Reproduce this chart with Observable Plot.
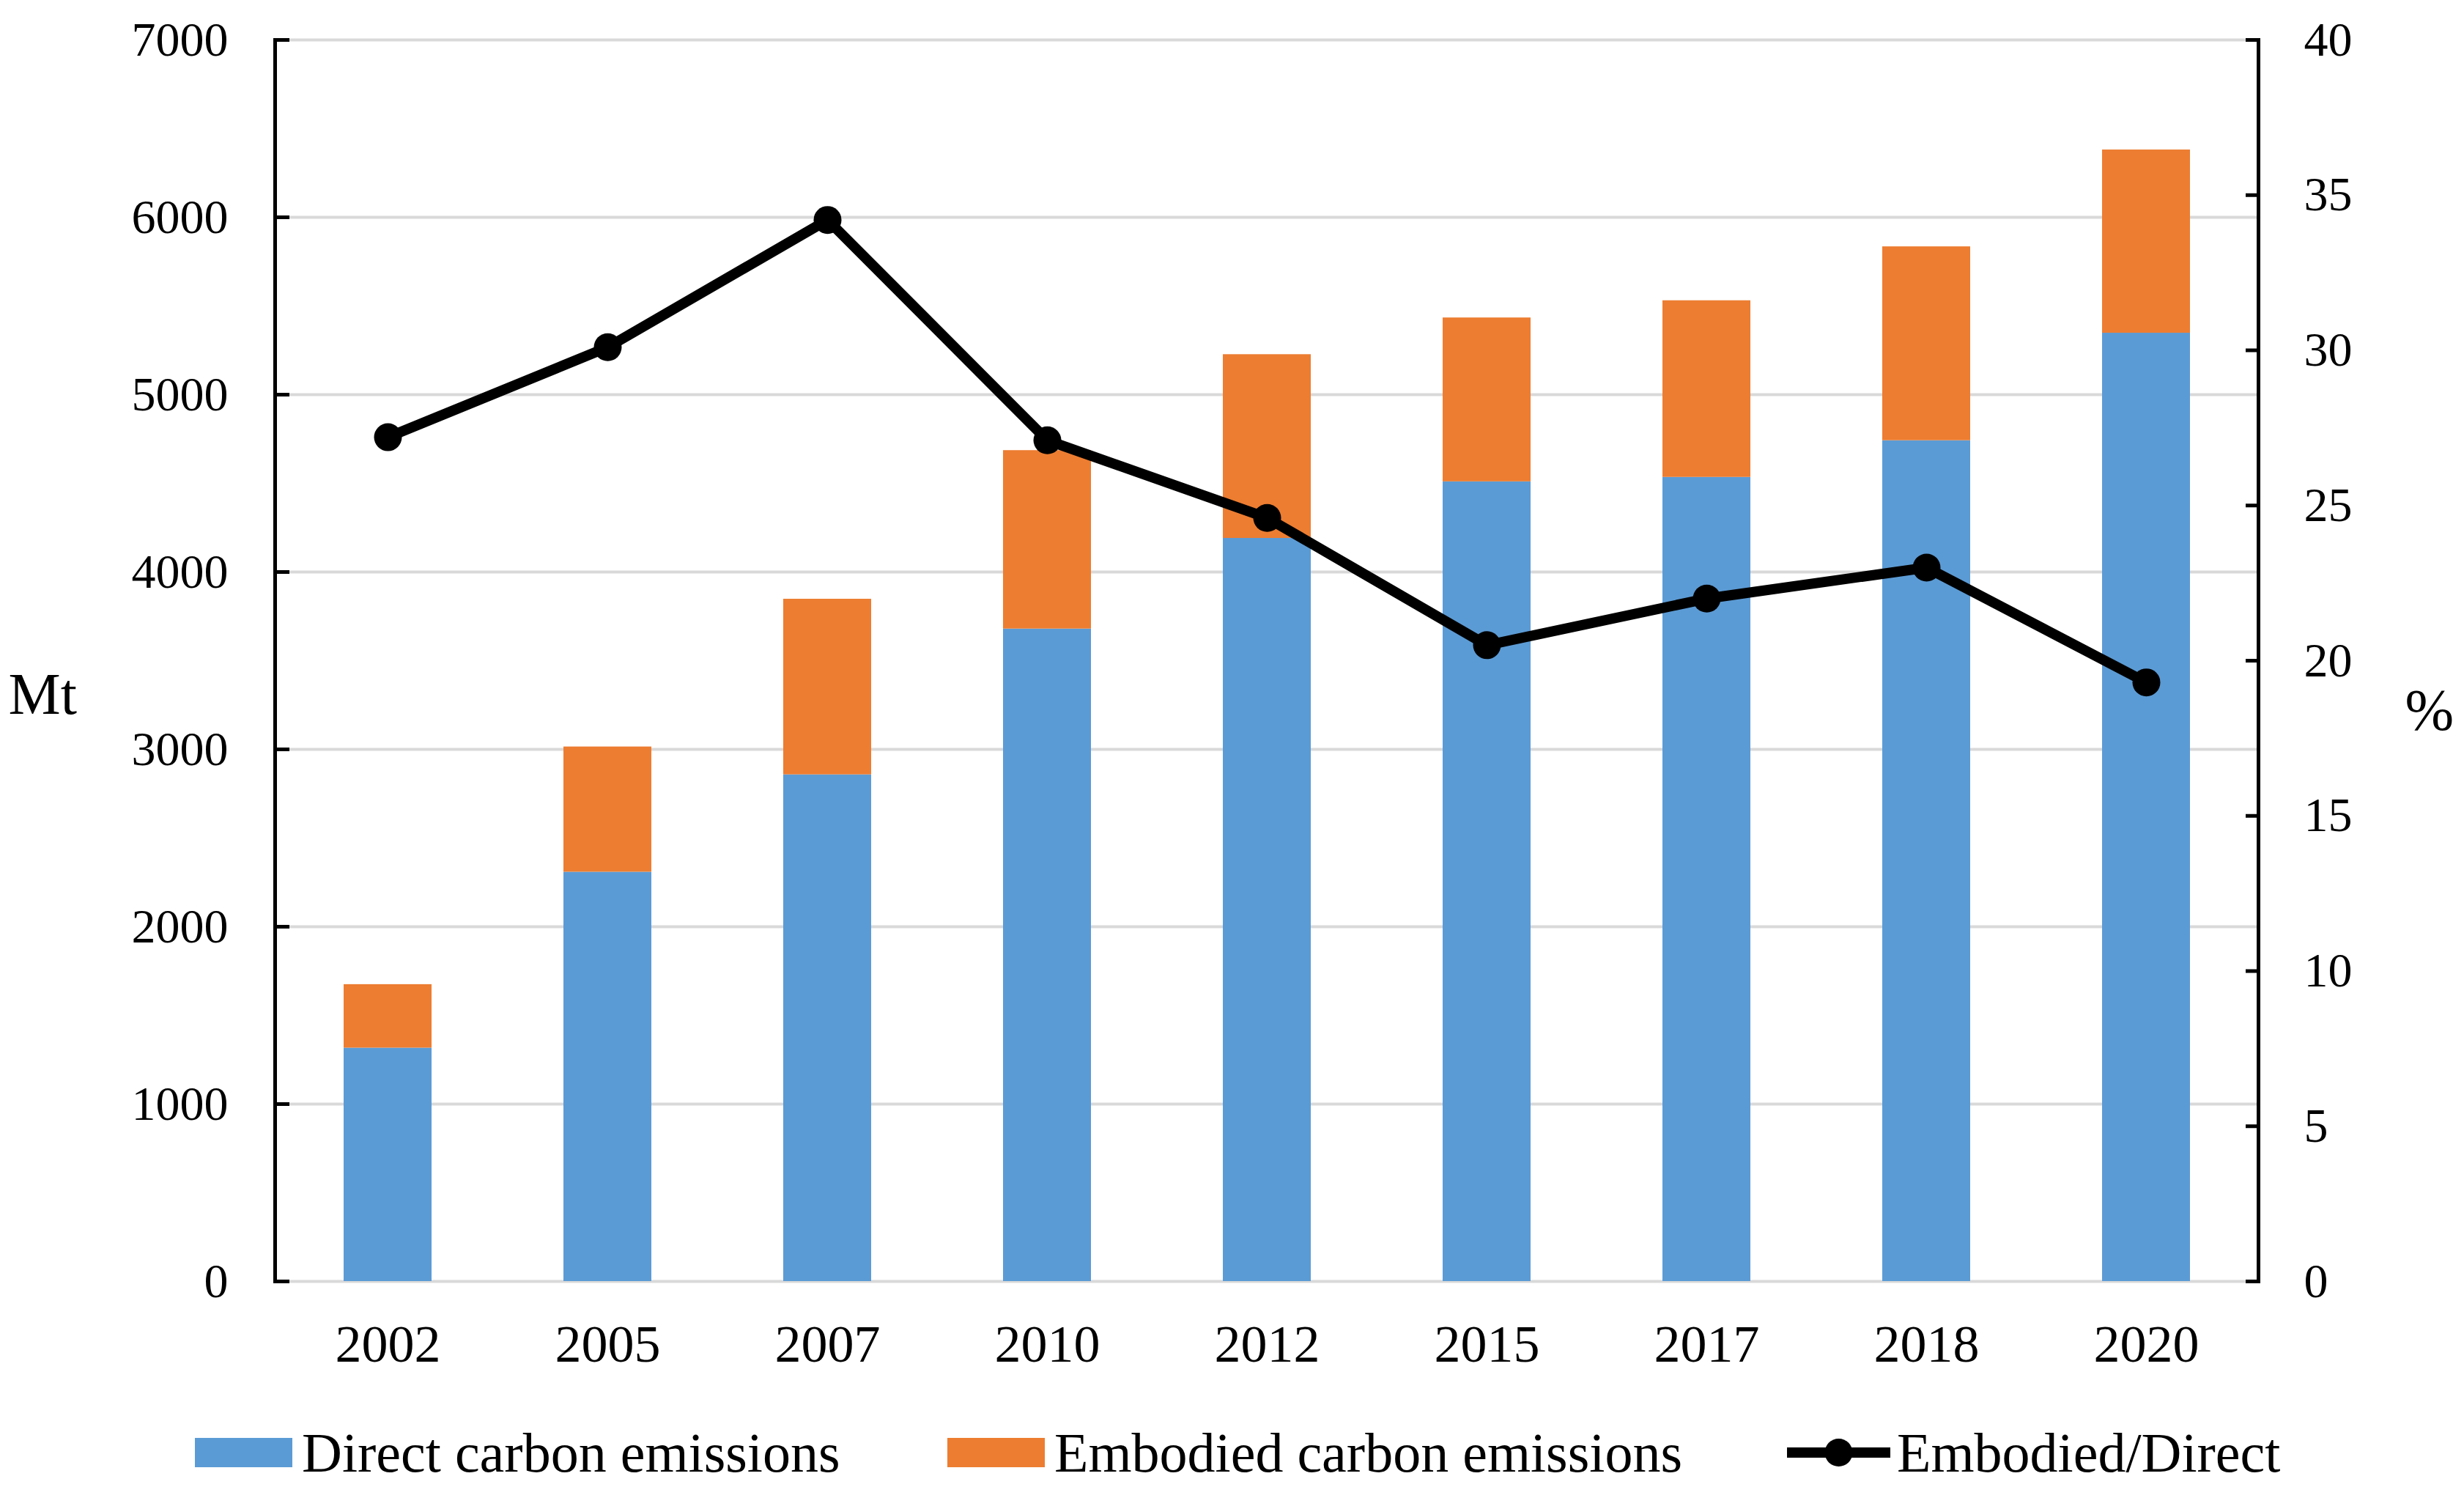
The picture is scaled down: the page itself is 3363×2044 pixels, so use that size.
<!DOCTYPE html>
<html>
<head>
<meta charset="utf-8">
<script src="https://cdn.jsdelivr.net/npm/d3@7"></script>
<script src="https://cdn.jsdelivr.net/npm/@observablehq/plot@0.6"></script>
<style>
  html, body { margin: 0; padding: 0; background: #fff; }
  #wrap { position: relative; width: 3363px; height: 2044px; font-family: "Liberation Serif", "Times New Roman", serif; color: #000; }
  #legend { position: absolute; left: 0; top: 1920px; width: 3363px; height: 124px; }
  .sw { position: absolute; top: 42px; width: 133px; height: 40px; }
  .lt { position: absolute; top: 20px; font-size: 76px; line-height: 84px; white-space: nowrap; }
</style>
</head>
<body>
<div id="wrap">
  <div id="chart"></div>
  <div id="legend"></div>
</div>
<script>
// ---- data ----
const years = ["2002", "2005", "2007", "2010", "2012", "2015", "2017", "2018", "2020"];
const directEmissions = [1316, 2308, 2857, 3679, 4190, 4509, 4534, 4741, 5347];          // Mt
const embodiedEmissions = [358, 706, 990, 1006, 1036, 924, 996, 1093, 1033];             // Mt
const embodiedDirectRatio = [27.2, 30.1, 34.2, 27.1, 24.6, 20.5, 22.0, 23.0, 19.3];      // %
const seriesNames = ["Direct carbon emissions", "Embodied carbon emissions"];
const lineName = "Embodied/Direct";
const seriesColors = ["#5B9BD5", "#ED7D31"];
const leftTicks = [0, 1000, 2000, 3000, 4000, 5000, 6000, 7000];
const rightTicks = [0, 5, 10, 15, 20, 25, 30, 35, 40];

// ---- build tables ----
const leftMax = 7000, rightMax = 40;
const k = leftMax / rightMax; // map % onto the Mt scale for the secondary axis
const barData = [];
years.forEach((y, i) => {
  barData.push({year: y, series: seriesNames[0], value: directEmissions[i]});
  barData.push({year: y, series: seriesNames[1], value: embodiedEmissions[i]});
});
const lineData = years.map((y, i) => ({year: y, ratio: embodiedDirectRatio[i]}));

const font = "'Liberation Serif', 'Times New Roman', serif";

const chart = Plot.plot({
  width: 3363,
  height: 1920,
  marginLeft: 375,
  marginRight: 281,
  marginTop: 54,
  marginBottom: 172,
  style: {fontFamily: font, background: "white", color: "black", overflow: "visible"},
  x: {domain: years, paddingInner: 0.6, paddingOuter: 0.3, label: null},
  y: {domain: [0, leftMax], label: null},
  color: {domain: seriesNames, range: seriesColors},
  marks: [
    Plot.gridY(leftTicks, {stroke: "#d9d9d9", strokeOpacity: 1, strokeWidth: 4}),
    Plot.barY(barData, {x: "year", y: "value", fill: "series", order: seriesNames}),
    Plot.line(lineData, {x: "year", y: d => d.ratio * k, stroke: "black", strokeWidth: 14, strokeLinejoin: "round"}),
    Plot.dot(lineData, {x: "year", y: d => d.ratio * k, r: 19, fill: "black", stroke: "none"}),
    Plot.frame({anchor: "left", stroke: "black", strokeWidth: 5}),
    Plot.frame({anchor: "right", stroke: "black", strokeWidth: 5}),
    // left axis: inward ticks + labels
    Plot.axisY(leftTicks, {anchor: "left", tickSize: 20, dx: 20, fill: "none", strokeWidth: 5, label: null}),
    Plot.axisY(leftTicks, {anchor: "left", tickSize: 0, tickPadding: 64, fontSize: 66, tickFormat: d => String(d), label: null}),
    // right axis (%): inward ticks + labels
    Plot.axisY(rightTicks.map(v => v * k), {anchor: "right", tickSize: 18, dx: -18, fill: "none", strokeWidth: 5, label: null}),
    Plot.axisY(rightTicks.map(v => v * k), {anchor: "right", tickSize: 0, tickPadding: 62, fontSize: 66, tickFormat: d => String(Math.round(d / k)), label: null}),
    Plot.axisX({tickSize: 0, tickPadding: 58, fontSize: 72, label: null}),
    Plot.text(["Mt"], {text: d => d, frameAnchor: "left", dx: -364, dy: 47, textAnchor: "start", fontSize: 80, fill: "black"}),
    Plot.text(["%"], {text: d => d, frameAnchor: "right", dx: 200, dy: 69, textAnchor: "start", fontSize: 80, fill: "black"})
  ]
});
document.getElementById("chart").appendChild(chart);

// ---- legend (below the SVG) ----
const legend = document.getElementById("legend");
const items = [
  {type: "rect", color: seriesColors[0], label: seriesNames[0], sx: 266, tx: 412},
  {type: "rect", color: seriesColors[1], label: seriesNames[1], sx: 1293, tx: 1439},
  {type: "line", color: "black", label: lineName, sx: 2439, tx: 2589}
];
items.forEach(it => {
  if (it.type === "rect") {
    const s = document.createElement("div");
    s.className = "sw";
    s.style.left = it.sx + "px";
    s.style.background = it.color;
    legend.appendChild(s);
  } else {
    const ns = "http://www.w3.org/2000/svg";
    const svg = document.createElementNS(ns, "svg");
    svg.setAttribute("width", 141);
    svg.setAttribute("height", 124);
    svg.style.position = "absolute";
    svg.style.left = it.sx + "px";
    svg.style.top = "0px";
    const ln = document.createElementNS(ns, "line");
    ln.setAttribute("x1", 0); ln.setAttribute("x2", 141);
    ln.setAttribute("y1", 62); ln.setAttribute("y2", 62);
    ln.setAttribute("stroke", it.color); ln.setAttribute("stroke-width", 14);
    svg.appendChild(ln);
    const c = document.createElementNS(ns, "circle");
    c.setAttribute("cx", 70.5); c.setAttribute("cy", 62); c.setAttribute("r", 19);
    c.setAttribute("fill", it.color);
    svg.appendChild(c);
    legend.appendChild(svg);
  }
  const t = document.createElement("div");
  t.className = "lt";
  t.style.left = it.tx + "px";
  t.textContent = it.label;
  legend.appendChild(t);
});
</script>
</body>
</html>
